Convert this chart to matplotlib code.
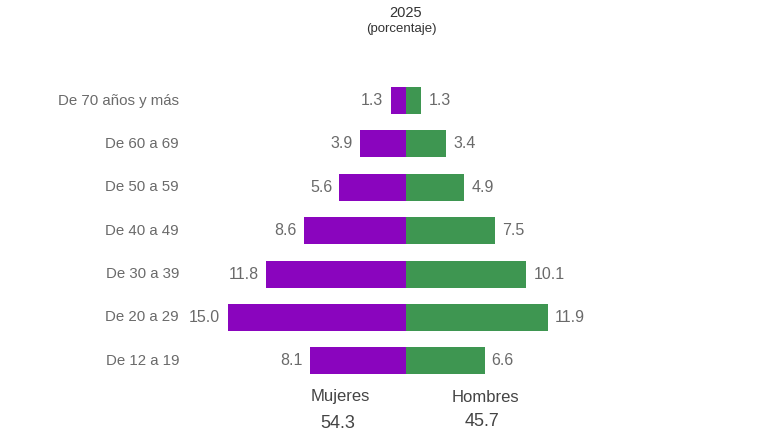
import matplotlib
matplotlib.use("Agg")
import matplotlib.pyplot as plt

plt.rcParams['font.family'] = ['Liberation Sans', 'DejaVu Sans']

categories = ["De 70 años y más", "De 60 a 69", "De 50 a 59", "De 40 a 49",
              "De 30 a 39", "De 20 a 29", "De 12 a 19"]
mujeres = [1.3, 3.9, 5.6, 8.6, 11.8, 15.0, 8.1]
hombres = [1.3, 3.4, 4.9, 7.5, 10.1, 11.9, 6.6]
total_mujeres = "54.3"
total_hombres = "45.7"
year = "2025"
unit = "(porcentaje)"

purple = "#8A05BE"
green = "#3E9651"
gray = "#6A6A6A"

W, H = 768, 432
fig = plt.figure(figsize=(W / 100, H / 100), dpi=100)
ax = fig.add_axes([0, 0, 1, 1])
pxu = 11.9
x0 = 406
ax.set_xlim(-x0 / pxu, (W - x0) / pxu)
sp = 43.4
y0 = 100.5
ax.set_ylim((H - y0) / sp, -y0 / sp)
ax.axis('off')

ys = list(range(len(categories)))
ax.barh(ys, [-v for v in mujeres], height=0.62, color=purple)
ax.barh(ys, hombres, height=0.62, color=green)

lab_x = (179 - x0) / pxu
for y, cat, m, h in zip(ys, categories, mujeres, hombres):
    ax.text(lab_x, y, cat, ha='right', va='center', fontsize=10.8, color=gray)
    ax.text(-m - 0.6, y, f"{m:.1f}", ha='right', va='center', fontsize=11.5, color=gray)
    ax.text(h + 0.6, y, f"{h:.1f}", ha='left', va='center', fontsize=11.5, color=gray)

fig.text(340 / W, 1 - 397 / H, "Mujeres", ha='center', va='center', fontsize=12, color="#444444")
fig.text(338 / W, 1 - 424 / H, total_mujeres, ha='center', va='center', fontsize=13, color="#444444")
fig.text(485 / W, 1 - 397 / H, "Hombres", ha='center', va='center', fontsize=12, color="#444444")
fig.text(482 / W, 1 - 422 / H, total_hombres, ha='center', va='center', fontsize=13, color="#444444")

fig.text(406 / W, 1 - 13 / H, year, ha='center', va='center', fontsize=10.5, color="#333333")
fig.text(401 / W, 1 - 29 / H, unit, ha='center', va='center', fontsize=9.5, color="#333333")

fig.savefig("out.png", dpi=100, facecolor='white')
